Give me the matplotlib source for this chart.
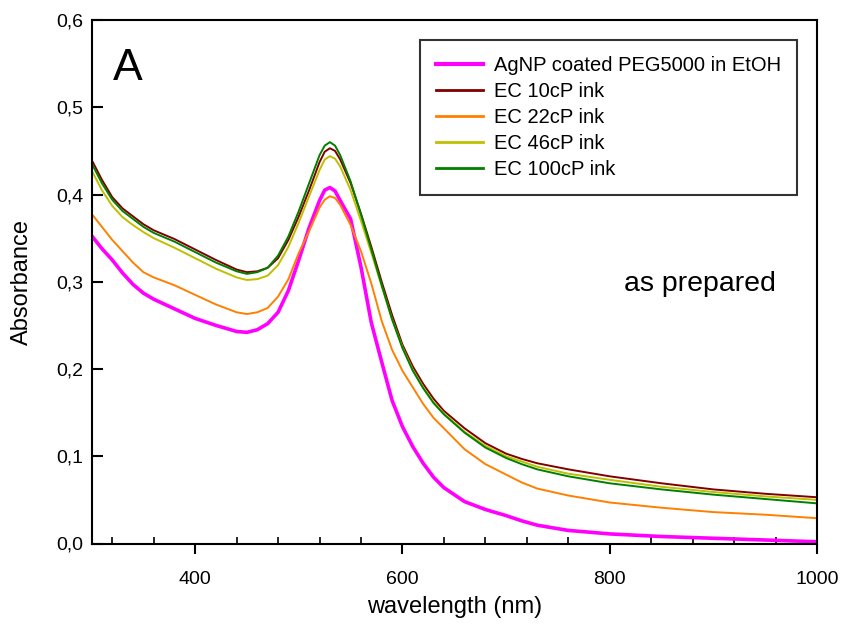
import matplotlib
matplotlib.use("Agg")
import matplotlib.pyplot as plt
from matplotlib.ticker import MultipleLocator, FuncFormatter

plt.rcParams['font.family'] = ['Liberation Sans', 'DejaVu Sans']

wavelength = [300, 310, 320, 330, 340, 350, 360, 380, 400, 420, 440, 450, 460, 470, 480,
              490, 500, 510, 520, 525, 530, 535, 540, 550, 560, 570, 580, 590, 600, 610,
              620, 630, 640, 660, 680, 700, 715, 730, 760, 800, 850, 900, 950, 1000]

agnp_peg = [0.353, 0.338, 0.325, 0.310, 0.297, 0.287, 0.280, 0.269, 0.258, 0.250, 0.243,
            0.242, 0.245, 0.252, 0.265, 0.290, 0.325, 0.362, 0.393, 0.405, 0.408, 0.404,
            0.393, 0.372, 0.317, 0.253, 0.208, 0.164, 0.134, 0.111, 0.092, 0.076, 0.064,
            0.048, 0.039, 0.032, 0.026, 0.021, 0.015, 0.011, 0.008, 0.006, 0.004, 0.002]

ec10 = [0.440, 0.417, 0.397, 0.384, 0.375, 0.366, 0.359, 0.349, 0.337, 0.325, 0.314,
        0.311, 0.312, 0.316, 0.327, 0.348, 0.375, 0.405, 0.437, 0.449, 0.453, 0.450,
        0.440, 0.413, 0.378, 0.340, 0.300, 0.262, 0.228, 0.203, 0.183, 0.166, 0.152,
        0.132, 0.115, 0.103, 0.097, 0.092, 0.085, 0.077, 0.069, 0.062, 0.057, 0.053]

ec22 = [0.378, 0.363, 0.348, 0.335, 0.322, 0.311, 0.305, 0.296, 0.285, 0.274, 0.265,
        0.263, 0.265, 0.270, 0.283, 0.303, 0.333, 0.358, 0.385, 0.394, 0.398, 0.396,
        0.388, 0.365, 0.335, 0.298, 0.255, 0.222, 0.198, 0.179, 0.160, 0.144, 0.132,
        0.108, 0.091, 0.079, 0.070, 0.063, 0.055, 0.047, 0.041, 0.036, 0.033, 0.029]

ec46 = [0.428, 0.405, 0.387, 0.374, 0.365, 0.357, 0.350, 0.339, 0.327, 0.315, 0.305,
        0.302, 0.303, 0.307, 0.319, 0.340, 0.368, 0.398, 0.428, 0.440, 0.444, 0.441,
        0.432, 0.405, 0.370, 0.333, 0.295, 0.257, 0.225, 0.199, 0.179, 0.162, 0.149,
        0.128, 0.112, 0.100, 0.094, 0.088, 0.080, 0.073, 0.065, 0.059, 0.054, 0.050]

ec100 = [0.436, 0.413, 0.394, 0.381, 0.372, 0.363, 0.356, 0.346, 0.334, 0.322, 0.312,
         0.309, 0.311, 0.316, 0.330, 0.352, 0.381, 0.413, 0.445, 0.456, 0.460, 0.456,
         0.445, 0.415, 0.377, 0.337, 0.296, 0.257, 0.224, 0.198, 0.178, 0.161, 0.148,
         0.127, 0.110, 0.098, 0.091, 0.085, 0.077, 0.069, 0.062, 0.056, 0.051, 0.046]

labels = ["AgNP coated PEG5000 in EtOH", "EC 10cP ink", "EC 22cP ink",
          "EC 46cP ink", "EC 100cP ink"]
colors = ["#FF00FF", "#800000", "#FF8000", "#BFBF00", "#008000"]
series = [agnp_peg, ec10, ec22, ec46, ec100]
widths = [2.6, 1.4, 1.4, 1.4, 1.4]

fig = plt.figure(figsize=(8.44, 6.29), dpi=100)
ax = fig.add_axes([91.5 / 844, 1 - 543.5 / 629, (817 - 91.5) / 844, (543.5 - 20) / 629])

for y, c, lab, lw in zip(series, colors, labels, widths):
    ax.plot(wavelength, y, color=c, lw=lw, label=lab)

ax.set_xlim(300, 1000)
ax.set_ylim(0, 0.6)
ax.xaxis.set_major_locator(MultipleLocator(200))
ax.xaxis.set_minor_locator(MultipleLocator(40))
ax.yaxis.set_major_locator(MultipleLocator(0.1))
ax.yaxis.set_major_formatter(FuncFormatter(lambda v, p: f"{v:.1f}".replace(".", ",")))
ax.xaxis.set_major_formatter(FuncFormatter(lambda v, p: f"{int(round(v))}"))

for s in ax.spines.values():
    s.set_linewidth(1.5)
ax.tick_params(axis='x', which='major', direction='out', length=7, width=1.5,
               labelsize=14, pad=13)
ax.tick_params(axis='x', which='minor', direction='in', length=5, width=1.2)
ax.tick_params(axis='y', which='major', direction='in', length=8, width=1.5,
               labelsize=14, pad=6)

ax.set_xlabel("wavelength (nm)", fontsize=17, va='center')
ax.set_ylabel("Absorbance", fontsize=17, va='center')
ax.xaxis.set_label_coords(0.5, -0.1213)
ax.yaxis.set_label_coords(-0.0958, 0.5)

ax.text(0.03, 0.908, "A", transform=ax.transAxes, fontsize=32, va='center', ha='left')
ax.text(0.7345, 0.495, "as prepared", transform=ax.transAxes, fontsize=20.5,
        va='center', ha='left')

leg = ax.legend(loc='upper right', bbox_to_anchor=(0.9725, 0.9617), borderaxespad=0,
                fontsize=14.5, frameon=True, fancybox=False, handlelength=2.3,
                handletextpad=0.55, labelspacing=0.35, borderpad=0.8)
leg.get_frame().set_edgecolor('black')
leg.get_frame().set_linewidth(1.5)
for h, lw in zip(leg.get_lines(), [3.0, 2.0, 2.0, 2.0, 2.0]):
    h.set_linewidth(lw)

fig.savefig("out.png", dpi=100)
